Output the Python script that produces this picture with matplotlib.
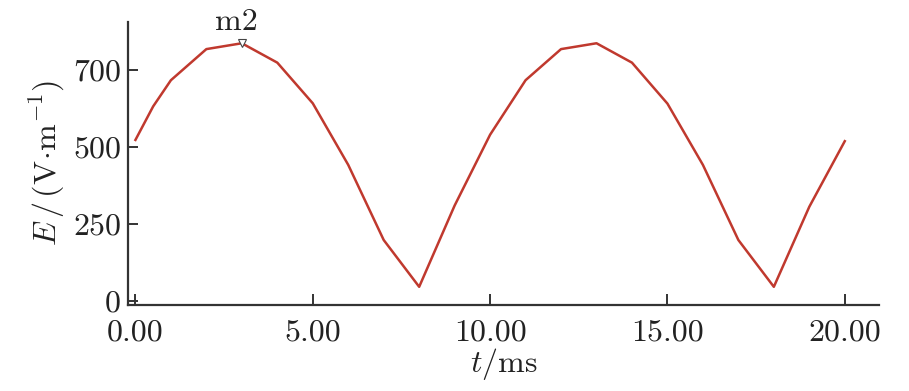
import matplotlib
matplotlib.use("Agg")
import matplotlib.pyplot as plt

# values
t_ms = [0, 0.5, 1, 2, 3, 4, 5, 6, 7, 8, 9, 10, 11, 12, 13, 14, 15, 16, 17, 18, 19, 20]
e_field = [523, 632, 717, 818, 837, 774, 642, 442, 198, 46, 310, 540, 717, 818, 837, 774, 641, 442, 198, 46, 306, 519]
x_ticks = [0, 5, 10, 15, 20]
x_tick_labels = ["0.00", "5.00", "10.00", "15.00", "20.00"]
y_ticks = [0, 250, 500, 750]
y_tick_labels = ["0", "250", "500", "700"]
marker_t = 3
marker_e = 837

plt.rcParams["font.family"] = "cmr10"
plt.rcParams["mathtext.fontset"] = "cm"
plt.rcParams["axes.formatter.use_mathtext"] = True

fs = 23

fig = plt.figure(figsize=(9.09, 3.91), dpi=100)
ax = fig.add_axes([0.1408, 0.22, 0.826, 0.7245])

ax.plot(t_ms, e_field, color="#c0392e", linewidth=1.8)

# marker m2 at the peak
ax.plot([marker_t], [marker_e], marker="v", markersize=5.5, markerfacecolor="white",
        markeredgecolor="#444444", markeredgewidth=0.8, linestyle="none")
ax.annotate("m2", xy=(marker_t, marker_e), xytext=(-4, 5), textcoords="offset points",
            ha="center", va="bottom", fontsize=fs, color="#222222")

ax.set_xlim(-0.21, 20.96)
ax.set_ylim(-13, 907)
ax.set_xticks(x_ticks)
ax.set_xticklabels(x_tick_labels)
ax.set_yticks(y_ticks)
ax.set_yticklabels(y_tick_labels)

for side in ["top", "right"]:
    ax.spines[side].set_visible(False)
for side in ["left", "bottom"]:
    ax.spines[side].set_linewidth(1.6)
    ax.spines[side].set_color("#333333")

ax.tick_params(axis="x", direction="in", length=8, width=1.4, colors="#333333",
               labelsize=fs, labelcolor="#222222", pad=10)
ax.tick_params(axis="y", direction="in", length=7, width=1.4, colors="#333333",
               labelsize=fs, labelcolor="#222222", pad=5)

ax.set_xlabel(r"$t/\mathrm{ms}$", fontsize=fs, color="#222222", labelpad=0)
ax.set_ylabel(r"$E\,/\,(\mathrm{V}\!\cdot\!\mathrm{m}^{-1})$", fontsize=fs,
              color="#222222", labelpad=4)

fig.savefig("out.png", dpi=100, facecolor="white")
